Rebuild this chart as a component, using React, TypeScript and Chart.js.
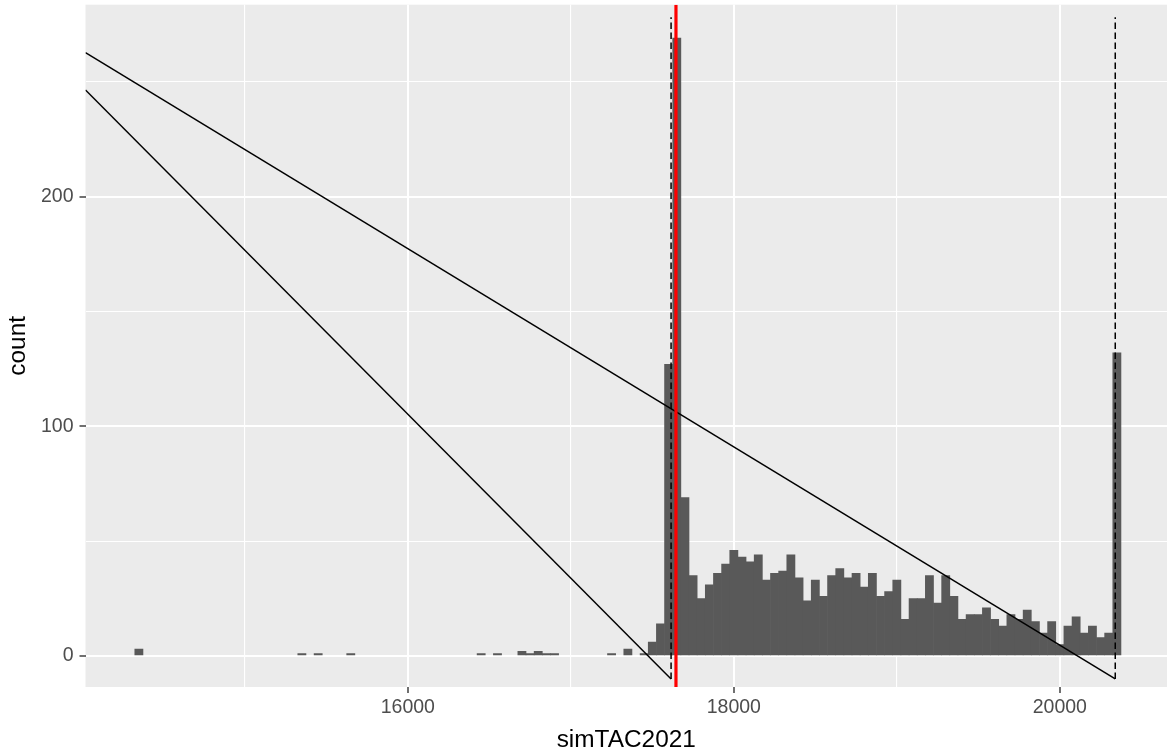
import { useEffect, useRef } from "react";
import { Chart, registerables } from "chart.js";

Chart.register(...registerables);

// Histogram of simTAC2021 (bin width 50, bins centred on multiples of 50)
const binMids = [
  14350, 15350, 15450, 15650, 16450, 16550, 16700, 16750, 16800, 16850, 16900,
  17250, 17350, 17450, 17500, 17550, 17600, 17650, 17700, 17750, 17800, 17850,
  17900, 17950, 18000, 18050, 18100, 18150, 18200, 18250, 18300, 18350, 18400,
  18450, 18500, 18550, 18600, 18650, 18700, 18750, 18800, 18850, 18900, 18950,
  19000, 19050, 19100, 19150, 19200, 19250, 19300, 19350, 19400, 19450, 19500,
  19550, 19600, 19650, 19700, 19750, 19800, 19850, 19900, 19950, 20000, 20050,
  20100, 20150, 20200, 20250, 20300, 20350,
];
const binCounts = [
  3, 1, 1, 1, 1, 1, 2, 1, 2, 1, 1,
  1, 3, 1, 6, 14, 127, 269, 69, 35, 25, 31,
  36, 40, 46, 43, 41, 44, 33, 36, 37, 44, 34,
  24, 33, 26, 35, 38, 34, 36, 30, 36, 26, 28,
  33, 16, 25, 25, 35, 23, 35, 26, 16, 18, 18,
  21, 16, 13, 18, 16, 20, 15, 10, 15, 5, 13,
  17, 10, 13, 8, 10, 132,
];

// Axis ranges and gridline positions (major ones are labelled)
const xRange = [14022.5, 20657.5];
const yRange = [-13.5, 283.5];
const xGrid = [15000, 16000, 17000, 18000, 19000, 20000];
const xMajor = [16000, 18000, 20000];
const yGrid = [0, 50, 100, 150, 200, 250];
const yMajor = [0, 100, 200];

// Dashed bound markers (lower, upper) and their vertical extent
const boundX = [17615, 20340];
const boundSpan = [-10, 278];

// Red reference value
const refX = 17645;

// Two sloped guide lines: start (left edge) and end points, lower then upper
const slopeStartY = [246.4, 262.6];
const slopeEndX = [17615, 20340];
const slopeEndY = [-10, -10];

const FONT = "'Liberation Sans', Arial, Helvetica, sans-serif";

export default function App() {
  const ref = useRef<HTMLCanvasElement>(null);

  useEffect(() => {
    const canvas = ref.current;
    if (!canvas) return;

    const panelBg = {
      id: "panelBg",
      beforeDraw(chart: any) {
        const { ctx, chartArea } = chart;
        ctx.save();
        ctx.fillStyle = "#EBEBEB";
        ctx.fillRect(chartArea.left, chartArea.top, chartArea.width, chartArea.height);
        ctx.restore();
      },
    };

    const barData = binMids.map((x, i) => ({ x, y: binCounts[i] }));

    const slopeSets = slopeStartY.map((y0, i) => ({
      type: "line" as const,
      data: [
        { x: xRange[0], y: y0 },
        { x: slopeEndX[i], y: slopeEndY[i] },
      ],
      borderColor: "#000000",
      borderWidth: 1.5,
      pointRadius: 0,
      tension: 0,
      order: 3,
    }));

    const boundSets = boundX.map((bx) => ({
      type: "line" as const,
      data: [
        { x: bx, y: boundSpan[0] },
        { x: bx, y: boundSpan[1] },
      ],
      borderColor: "#000000",
      borderWidth: 1.5,
      borderDash: [6.5, 3.5],
      pointRadius: 0,
      tension: 0,
      order: 2,
    }));

    const refSet = {
      type: "line" as const,
      data: [
        { x: refX, y: yRange[0] },
        { x: refX, y: yRange[1] },
      ],
      borderColor: "#FF0000",
      borderWidth: 3.2,
      pointRadius: 0,
      tension: 0,
      order: 1,
    };

    const isMajorX = (v: number) => xMajor.includes(v);
    const isMajorY = (v: number) => yMajor.includes(v);

    const chart = new Chart(canvas, {
      type: "bar",
      data: {
        datasets: [
          {
            type: "bar",
            data: barData,
            backgroundColor: "#595959",
            borderWidth: 0,
            barPercentage: 1,
            categoryPercentage: 1,
            order: 5,
          } as any,
          ...slopeSets,
          ...boundSets,
          refSet,
        ] as any,
      },
      options: {
        animation: false,
        responsive: false,
        maintainAspectRatio: false,
        layout: { padding: { top: 4.7, right: 0, bottom: 0, left: 0 } },
        plugins: {
          legend: { display: false },
          tooltip: { enabled: false },
        },
        scales: {
          x: {
            type: "linear",
            min: xRange[0],
            max: xRange[1],
            offset: false,
            afterBuildTicks: (s: any) => {
              s.ticks = xGrid.map((value) => ({ value }));
            },
            afterFit: (s: any) => {
              s.height = 67;
              s.paddingLeft = 0;
              s.paddingRight = 0;
            },
            border: { display: false },
            grid: {
              offset: false,
              color: "#FFFFFF",
              lineWidth: (c: any) => (c.tick && isMajorX(c.tick.value) ? 2 : 1.1),
              drawTicks: true,
              tickLength: 6,
              tickWidth: 1.4,
              tickColor: (c: any) =>
                c.tick && isMajorX(c.tick.value) ? "#333333" : "rgba(0,0,0,0)",
            },
            ticks: {
              autoSkip: false,
              maxRotation: 0,
              padding: 3,
              color: "#4D4D4D",
              font: { family: FONT, size: 19.5 },
              callback: (v: any) => (isMajorX(Number(v)) ? String(v) : ""),
            },
            title: {
              display: true,
              text: "simTAC2021",
              color: "#000000",
              font: { family: FONT, size: 24.4, lineHeight: 1 },
              padding: { top: 0, bottom: 2 },
            },
          } as any,
          y: {
            type: "linear",
            min: yRange[0],
            max: yRange[1],
            afterBuildTicks: (s: any) => {
              s.ticks = yGrid.map((value) => ({ value }));
            },
            afterFit: (s: any) => {
              s.width = 85.5;
              s.paddingTop = 0;
              s.paddingBottom = 0;
            },
            border: { display: false },
            grid: {
              color: "#FFFFFF",
              lineWidth: (c: any) => (c.tick && isMajorY(c.tick.value) ? 2 : 1.1),
              drawTicks: true,
              tickLength: 6,
              tickWidth: 1.4,
              tickColor: (c: any) =>
                c.tick && isMajorY(c.tick.value) ? "#333333" : "rgba(0,0,0,0)",
            },
            ticks: {
              autoSkip: false,
              padding: 6,
              color: "#4D4D4D",
              font: { family: FONT, size: 19.5 },
              callback: (v: any) => (isMajorY(Number(v)) ? String(v) : ""),
            },
            title: {
              display: true,
              text: "count",
              color: "#000000",
              font: { family: FONT, size: 24.4, lineHeight: 1 },
              padding: { top: 6, bottom: 0 },
            },
          } as any,
        },
      },
      plugins: [panelBg],
    });

    return () => chart.destroy();
  }, []);

  return (
    <div
      style={{
        position: "absolute",
        left: 0,
        top: 0,
        width: 1167,
        height: 754,
        background: "#FFFFFF",
        overflow: "hidden",
      }}
    >
      <canvas ref={ref} width={1167} height={754} style={{ display: "block" }} />
    </div>
  );
}
